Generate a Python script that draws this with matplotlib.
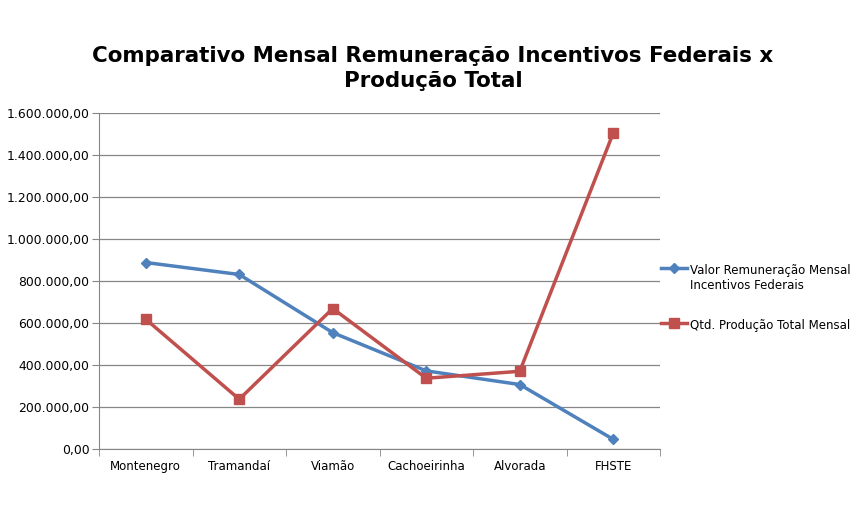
import matplotlib
matplotlib.use("Agg")
import matplotlib.pyplot as plt
from matplotlib.ticker import FuncFormatter

categories = ["Montenegro", "Tramandaí", "Viamão", "Cachoeirinha", "Alvorada", "FHSTE"]
valor_remuneracao = [888000, 831000, 554000, 372000, 307000, 46000]
qtd_producao = [618000, 237000, 669000, 337000, 370000, 1505000]
series_names = ["Valor Remuneração Mensal\nIncentivos Federais", "Qtd. Produção Total Mensal"]
title = "Comparativo Mensal Remuneração Incentivos Federais x\nProdução Total"

plt.rcParams['font.family'] = ['DejaVu Sans']

fig = plt.figure(figsize=(8.56, 5.12), dpi=100)
ax = fig.add_axes([99/856, 1-449/512, (660-99)/856, (449-113)/512])

x = list(range(len(categories)))
ax.plot(x, valor_remuneracao, color="#4F81BD", lw=2.5, marker="D", ms=5, label=series_names[0])
ax.plot(x, qtd_producao, color="#C0504D", lw=2.5, marker="s", ms=7, label=series_names[1])

ax.set_xlim(-0.5, len(categories)-0.5)
ax.set_ylim(0, 1600000)
ax.set_yticks(range(0, 1600001, 200000))

def fmt(v, pos):
    s = f"{int(v):,}".replace(",", ".")
    return s + ",00"
ax.yaxis.set_major_formatter(FuncFormatter(fmt))
ax.set_xticks(x)
ax.set_xticklabels(categories)
ax.set_xticks([i-0.5 for i in range(len(categories)+1)], minor=True)
ax.tick_params(axis='x', which='major', length=0, labelsize=8.5, pad=8)
ax.tick_params(axis='x', which='minor', length=5, color="#868686")
ax.tick_params(axis='y', length=5, color="#868686", labelsize=8.9, pad=2)

ax.grid(axis='y', color="#868686", lw=0.9)
ax.set_axisbelow(True)
for s in ["top", "right"]:
    ax.spines[s].set_visible(False)
for s in ["left", "bottom"]:
    ax.spines[s].set_color("#868686")

fig.text(433/856, 1-68.5/512, title, ha="center", va="center", fontsize=15.4, fontweight="bold", linespacing=1.3)

leg = ax.legend(loc="upper left", bbox_to_anchor=(656/856, 1-259/512), bbox_transform=fig.transFigure,
                frameon=False, fontsize=8.5, handlelength=2.2, handletextpad=0.25, labelspacing=2.3,
                borderaxespad=0)
for col in leg._legend_handle_box.get_children():
    for row in col.get_children():
        row.align = "top"

fig.savefig("out.png", dpi=100)
